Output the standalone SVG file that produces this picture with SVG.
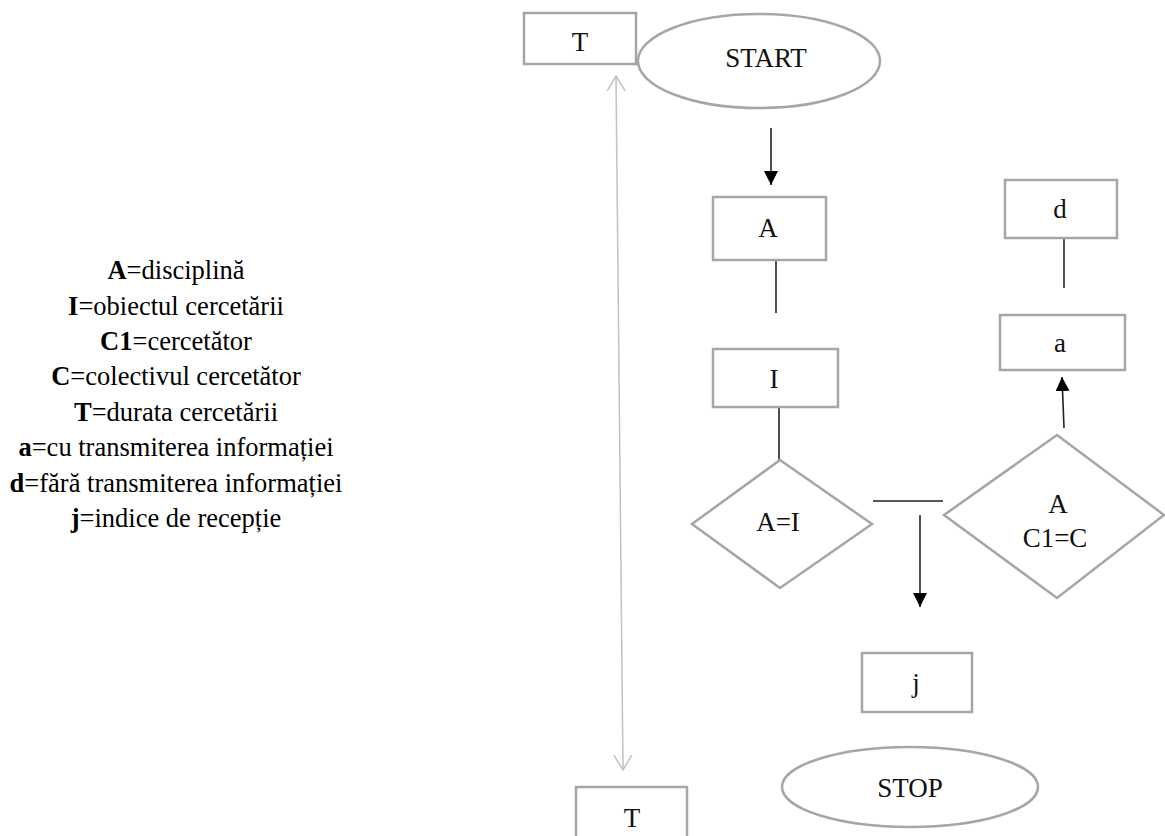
<svg xmlns="http://www.w3.org/2000/svg" width="1165" height="836" viewBox="0 0 1165 836">
<defs>
<style>
.box{fill:#fff;stroke:#a6a6a6;stroke-width:2.5}
.lbl{font-family:"Liberation Serif","Times New Roman",serif;font-size:27px;fill:#111;text-anchor:middle}
.leg{font-family:"Liberation Serif","Times New Roman",serif;font-size:26.5px;fill:#000;text-anchor:middle}
.leg tspan.b{font-weight:bold}
.con{stroke:#222;stroke-width:1.6;fill:none}
.dbl{stroke:#c4c4c4;stroke-width:1.6;fill:none}
</style>
<marker id="ah" viewBox="0 0 14 14" markerWidth="14" markerHeight="14" refX="14" refY="7" orient="auto" markerUnits="userSpaceOnUse">
<path d="M0,0 L14,7 L0,14 Z" fill="#000"/>
</marker>
<marker id="open" viewBox="0 0 16 20" markerWidth="16" markerHeight="20" refX="15" refY="10" orient="auto-start-reverse" markerUnits="userSpaceOnUse">
<path d="M0,1 L15,10 L0,19" fill="none" stroke="#c4c4c4" stroke-width="1.6"/>
</marker>
</defs>
<rect width="1165" height="836" fill="#fff"/>

<g id="legend">
<text class="leg" x="176" y="279"><tspan class="b">A</tspan>=disciplină</text>
<text class="leg" x="176" y="314.5"><tspan class="b">I</tspan>=obiectul cercetării</text>
<text class="leg" x="176" y="350"><tspan class="b">C1</tspan>=cercetător</text>
<text class="leg" x="176" y="385"><tspan class="b">C</tspan>=colectivul cercetător</text>
<text class="leg" x="176" y="420.5"><tspan class="b">T</tspan>=durata cercetării</text>
<text class="leg" x="176" y="456"><tspan class="b">a</tspan>=cu transmiterea informației</text>
<text class="leg" x="176" y="491.5"><tspan class="b">d</tspan>=fără transmiterea informației</text>
<text class="leg" x="176" y="527"><tspan class="b">j</tspan>=indice de recepție</text>
</g>

<g id="connectors">
<path class="dbl" d="M616,76 L623,770" marker-start="url(#open)" marker-end="url(#open)"/>
<path class="con" d="M771,128 L771,185" marker-end="url(#ah)"/>
<path class="con" d="M776,260 L776,313"/>
<path class="con" d="M779,407 L779,461"/>
<path class="con" d="M873,501 L943,501"/>
<path class="con" d="M920,515 L920,607" marker-end="url(#ah)"/>
<path class="con" d="M1064,428 L1062,377" marker-end="url(#ah)"/>
<path class="con" d="M1064,238 L1064,288"/>
</g>

<g id="T-top">
<rect class="box" x="524" y="13" width="112" height="51"/>
<text class="lbl" x="580" y="51">T</text>
</g>
<g id="start">
<ellipse class="box" cx="759" cy="61" rx="121" ry="47"/>
<text class="lbl" x="766" y="67">START</text>
</g>
<g id="A">
<rect class="box" x="713" y="197" width="113" height="63"/>
<text class="lbl" x="768" y="237">A</text>
</g>
<g id="I">
<rect class="box" x="713" y="349" width="125" height="58"/>
<text class="lbl" x="774" y="388">I</text>
</g>
<g id="AeqI">
<polygon class="box" points="780,460 872,524 780,588 692,524"/>
<text class="lbl" x="778" y="531">A=I</text>
</g>
<g id="d">
<rect class="box" x="1005" y="180" width="112" height="58"/>
<text class="lbl" x="1060" y="218">d</text>
</g>
<g id="a">
<rect class="box" x="1000" y="315" width="125" height="55"/>
<text class="lbl" x="1060" y="352">a</text>
</g>
<g id="C1eqC">
<polygon class="box" points="1057,435 1164,515 1057,598 944,515"/>
<text class="lbl" x="1058" y="513">A</text>
<text class="lbl" x="1055" y="547">C1=C</text>
</g>
<g id="j">
<rect class="box" x="862" y="653" width="110" height="59"/>
<text class="lbl" x="916" y="692">j</text>
</g>
<g id="stop">
<ellipse class="box" cx="910" cy="787" rx="128" ry="40"/>
<text class="lbl" x="910" y="797">STOP</text>
</g>
<g id="T-bottom">
<rect class="box" x="576" y="787" width="111" height="52"/>
<text class="lbl" x="632" y="827">T</text>
</g>
</svg>
